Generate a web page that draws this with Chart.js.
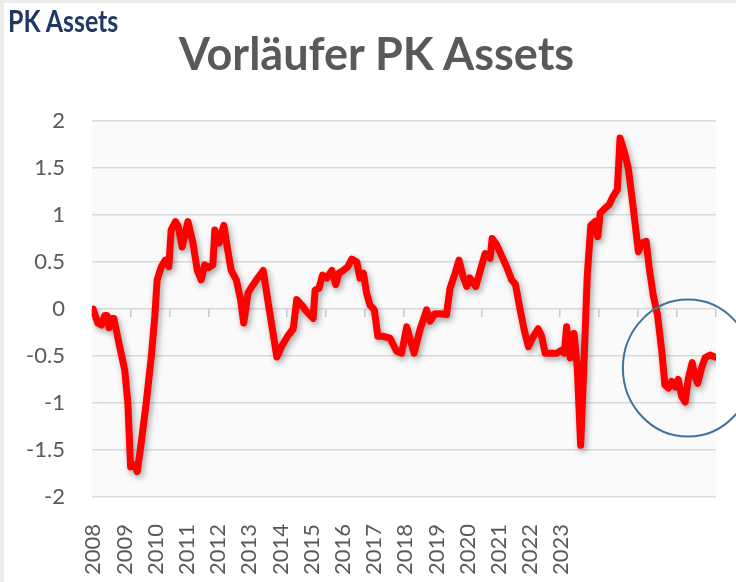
<!DOCTYPE html>
<html><head><meta charset="utf-8">
<script src="https://cdn.jsdelivr.net/npm/chart.js@4.4.1/dist/chart.umd.min.js"></script>
<style>
html,body{margin:0;padding:0;background:#fff;}
#wrap{position:relative;width:736px;height:582px;overflow:hidden;background:#fff;}
#edgeL{position:absolute;left:0;top:0;width:4px;height:582px;background:#ececec;}
#edgeT{position:absolute;left:0;top:0;width:736px;height:3px;background:#ececec;}
#logo{position:absolute;left:8px;top:5px;font-family:Lato,'Open Sans',sans-serif;font-weight:700;font-size:30px;line-height:1;color:#1f3864;transform:scaleX(0.83);transform-origin:left top;white-space:nowrap;}
#title{position:absolute;left:0;top:31px;width:753px;text-align:center;font-family:Lato,'Open Sans',sans-serif;font-weight:700;font-size:45px;line-height:1;color:#595959;white-space:nowrap;}
canvas{position:absolute;left:0;top:0;}
</style></head><body>
<div id="wrap"><canvas id="c" width="736" height="582"></canvas><div id="edgeL"></div><div id="edgeT"></div><div id="logo">PK Assets</div><div id="title"></div></div>
<script>
// ---- data ----
const dates = [2008.03,2008.15,2008.24,2008.33,2008.38,2008.44,2008.49,2008.56,2008.71,2008.84,
2008.92,2008.99,2009.09,2009.16,2009.26,2009.39,2009.52,2009.61,2009.67,2009.78,
2009.88,2009.97,2010.03,2010.14,2010.21,2010.31,2010.46,2010.59,2010.70,2010.80,
2010.89,2010.99,2011.10,2011.15,2011.26,2011.38,2011.49,2011.57,2011.70,2011.81,
2011.89,2012.00,2012.10,2012.25,2012.39,2012.52,2012.74,2012.86,2013.03,2013.16,
2013.25,2013.38,2013.51,2013.67,2013.72,2013.82,2013.91,2014.02,2014.15,2014.25,
2014.33,2014.44,2014.56,2014.66,2014.79,2014.87,2014.96,2015.04,2015.13,2015.24,
2015.33,2015.47,2015.64,2015.81,2015.94,2016.07,2016.26,2016.41,2016.58,2016.67,
2016.79,2016.92,2017.09,2017.18,2017.31,2017.41,2017.52,2017.61,2017.69,2017.84,
2017.95,2018.08,2018.21,2018.26,2018.38,2018.51,2018.63,2018.76,2018.86,2018.97,
2019.08,2019.19,2019.32,2019.44,2019.53,2019.62,2019.79,2019.92,2020.03,2020.11,
2020.17,2020.26,2020.36,2020.44,2020.53,2020.62,2020.70,2020.79,2020.90,2020.97,
2021.03,2021.15,2021.26,2021.35,2021.47,2021.54,2021.67,2021.75,2021.86,2022.01,
2022.09,2022.21,2022.29,2022.39,2022.50,2022.61,2022.69,2022.78,2022.86,2022.95,
2023.03,2023.12,2023.21,2023.29,2023.39,2023.46,2023.53,2023.63,2023.72,2023.85,2023.97];
const values = [0.0,-0.15,-0.17,-0.07,-0.07,-0.2,-0.1,-0.1,-0.4,-0.65,
-1.0,-1.68,-1.66,-1.73,-1.43,-1.0,-0.51,-0.08,0.31,0.45,
0.52,0.45,0.84,0.93,0.88,0.66,0.93,0.70,0.41,0.31,
0.47,0.44,0.47,0.84,0.70,0.89,0.60,0.41,0.31,0.10,
-0.15,0.17,0.24,0.33,0.41,0.06,-0.51,-0.40,-0.28,-0.21,
0.10,0.04,-0.03,-0.10,0.20,0.22,0.36,0.33,0.41,0.26,
0.38,0.41,0.45,0.53,0.50,0.33,0.38,0.17,0.04,-0.01,
-0.29,-0.29,-0.31,-0.45,-0.47,-0.19,-0.47,-0.22,-0.01,-0.13,
-0.05,-0.05,-0.06,0.22,0.38,0.52,0.34,0.24,0.33,0.24,
0.40,0.59,0.54,0.75,0.68,0.56,0.45,0.31,0.26,0.01,
-0.22,-0.40,-0.29,-0.21,-0.29,-0.47,-0.47,-0.47,-0.44,-0.47,
-0.19,-0.52,-0.26,-0.60,-1.45,-0.52,0.36,0.89,0.93,0.77,
1.02,1.07,1.11,1.19,1.27,1.82,1.64,1.50,1.14,0.61,
0.70,0.72,0.43,0.15,-0.06,-0.45,-0.81,-0.84,-0.77,-0.83,
-0.75,-0.93,-0.99,-0.74,-0.57,-0.72,-0.79,-0.63,-0.52,-0.49,-0.51];
const yearLabels = ['2008','2009','2010','2011','2012','2013','2014','2015','2016','2017','2018','2019','2020','2021','2022','2023'];
const boundaryYears = [2008,2009,2010,2011,2012,2013,2014,2015,2016,2017,2018,2019,2020,2021,2022,2023,2024];
const yTickValues = [-2,-1.5,-1,-0.5,0,0.5,1,1.5,2];
const titleText = 'Vorläufer PK Assets';

document.getElementById('title').textContent = titleText;
Chart.defaults.font.family = "Lato, 'Open Sans', sans-serif";
Chart.defaults.color = '#595959';

const plotBg = {
  id:'plotBg',
  beforeDraw(chart){
    const {ctx, chartArea:a} = chart;
    ctx.save(); ctx.fillStyle = '#fafafa';
    ctx.fillRect(a.left, a.top, a.right-a.left, a.bottom-a.top);
    ctx.restore();
  }
};
const shadow = {
  id:'shadow',
  beforeDatasetDraw(chart){
    const c = chart.ctx; c.save();
    c.shadowColor = 'rgba(0,0,0,0.35)'; c.shadowBlur = 6; c.shadowOffsetX = 2; c.shadowOffsetY = 3;
  },
  afterDatasetDraw(chart){ chart.ctx.restore(); }
};
const ring = {
  id:'ring',
  afterDatasetsDraw(chart){
    const xs = chart.scales.x, ys = chart.scales.y, ctx = chart.ctx;
    const cx = xs.getPixelForValue(2023.28), cy = ys.getPixelForValue(-0.628);
    const rx = xs.getPixelForValue(2023.28 + 1.667) - cx;
    const ry = ys.getPixelForValue(-0.628) - ys.getPixelForValue(-0.628 + 0.729);
    ctx.save(); ctx.beginPath(); ctx.ellipse(cx, cy, rx, ry, 0, 0, Math.PI*2);
    ctx.strokeStyle = '#41719c'; ctx.lineWidth = 2; ctx.stroke(); ctx.restore();
  }
};

new Chart(document.getElementById('c'), {
  type:'line',
  data:{datasets:[{
    label: titleText,
    data: dates.map((d,i)=>({x:d, y:values[i]})),
    borderColor:'#ff0000', borderWidth:7, pointRadius:0, tension:0,
    borderJoinStyle:'round', borderCapStyle:'round', fill:false
  }]},
  options:{
    responsive:false, animation:false,
    layout:{padding:{left:0,right:20,top:121,bottom:0}},
    plugins:{ legend:{display:false}, tooltip:{enabled:false}, title:{display:false} },
    scales:{
      x:{type:'linear', axis:'x', min:2008, max:2024, position:{y:0},
        afterBuildTicks:s=>{ s.ticks = boundaryYears.map(v=>({value:v})); },
        ticks:{display:false},
        grid:{drawOnChartArea:false, drawTicks:true, tickLength:8, color:'#c8c8c8', lineWidth:1.5},
        border:{display:false}},
      xLabels:{type:'linear', axis:'x', position:'bottom', min:2007.96, max:2027.96,
        afterBuildTicks:s=>{ s.ticks = yearLabels.map(v=>({value:Number(v)})); },
        afterFit:s=>{ s.height = 85; },
        ticks:{autoSkip:false, maxRotation:90, minRotation:90, padding:19, font:{size:22}, color:'#595959',
          callback:(v)=>String(v)},
        grid:{display:false}, border:{display:false}},
      y:{min:-2, max:2,
        afterBuildTicks:s=>{ s.ticks = yTickValues.map(v=>({value:v})); },
        afterFit:s=>{ s.width = 92; },
        ticks:{padding:27, font:{size:22}, color:'#595959', callback:v=>String(v)},
        grid:{color:'#d9d9d9', lineWidth:1.5, drawTicks:false},
        border:{display:false}}
    }
  },
  plugins:[plotBg, shadow, ring]
});
</script>
</body></html>
